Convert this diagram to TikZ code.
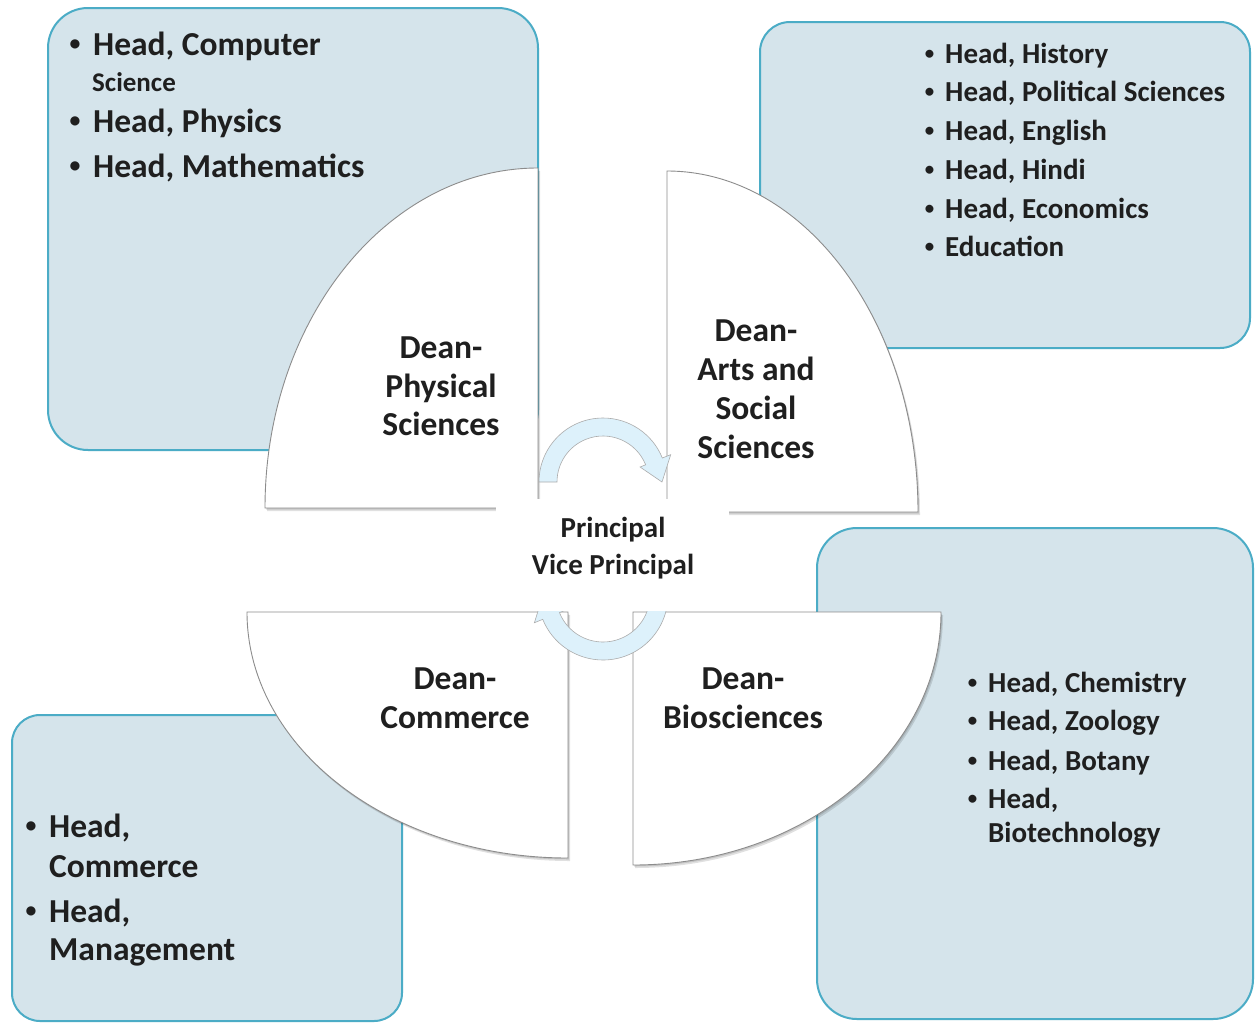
\documentclass[tikz,border=0pt]{standalone}
\usepackage{fontspec}
\setmainfont{Carlito}
\definecolor{boxfill}{RGB}{213,228,235}
\definecolor{boxline}{RGB}{75,172,198}
\definecolor{arrowfill}{RGB}{221,241,251}
\definecolor{secline}{RGB}{140,140,140}
\newcommand\bul{\llap{\raisebox{0.13em}{\scalebox{0.65}{•}}\kern0.38em}}
\tikzset{
  deptbox/.style={fill=boxfill, draw=boxline, line width=2pt},
  sector/.style={fill=white, draw=secline, line width=0.9pt},
  secshadow/.style={fill=black, opacity=0.12},
  cyclearrow/.style={fill=arrowfill, draw=gray!65, line width=0.6pt},
  ln/.style={inner sep=0pt, anchor=base west, text=black!88},
  cl/.style={inner sep=0pt, anchor=base, text=black!88},
  fbig/.style={font=\fontsize{33.5}{40}\selectfont\bfseries},
  fmid/.style={font=\fontsize{29}{35}\selectfont\bfseries},
  fsmall/.style={font=\fontsize{27}{32}\selectfont\bfseries},
}
\begin{document}
\begin{tikzpicture}[x=1pt,y=-1pt]
\useasboundingbox (0,0) rectangle (1255,1023);
\fill[white] (0,0) rectangle (1255,1023);

% department boxes
\draw[deptbox, rounded corners=40pt] (48,8) rectangle (538,450);
\draw[deptbox, rounded corners=30pt] (760,22) rectangle (1250,348);
\draw[deptbox, rounded corners=40pt] (817,528) rectangle (1253,1019);
\draw[deptbox, rounded corners=28pt] (12,715) rectangle (402,1021);

% sector shadows
\foreach \dx/\dy in {1/1.5, 2/3}{
\begin{scope}[shift={(\dx,\dy)}]
\fill[secshadow] (538,508) -- (265,508) arc[start angle=180, end angle=270, x radius=273, y radius=340] -- cycle;
\fill[secshadow] (667,512) -- (667,171) arc[start angle=270, end angle=360, x radius=251, y radius=341] -- cycle;
\fill[secshadow] (568,612) -- (247,612) arc[start angle=180, end angle=90, x radius=321, y radius=246] -- cycle;
\fill[secshadow] (633,612) -- (941,612) arc[start angle=0, end angle=90, x radius=308, y radius=253] -- cycle;
\end{scope}}

% sectors
\draw[sector] (538,508) -- (265,508) arc[start angle=180, end angle=270, x radius=273, y radius=340] -- cycle;
\draw[sector] (667,512) -- (667,171) arc[start angle=270, end angle=360, x radius=251, y radius=341] -- cycle;
\draw[sector] (568,612) -- (247,612) arc[start angle=180, end angle=90, x radius=321, y radius=246] -- cycle;
\draw[sector] (633,612) -- (941,612) arc[start angle=0, end angle=90, x radius=308, y radius=253] -- cycle;

% cycle arrows
\begin{scope}[shift={(603,482)}]
\draw[cyclearrow] (180:64) arc[start angle=180, end angle=338, radius=64] -- (338:73) -- (0:59) -- (338:40) -- (338:46) arc[start angle=338, end angle=180, radius=46] -- cycle;
\end{scope}
\begin{scope}[shift={(603,595)}]
\draw[cyclearrow] (0:65) arc[start angle=0, end angle=158, radius=65] -- (158:74) -- (180:60) -- (158:41) -- (158:47) arc[start angle=158, end angle=0, radius=47] -- cycle;
\end{scope}

% central area
\fill[white] (496,499) rectangle (729,611.3);

% centre text
\node[cl, fmid] (pr1) at (613,537) {Principal};
\node[cl, fmid] (pr2) at (613,574) {Vice Principal};

% dean labels
\node[cl, fbig] (ps1) at (441,358) {Dean-};
\node[cl, fbig] (ps2) at (441,397) {Physical};
\node[cl, fbig] (ps3) at (441,435) {Sciences};

\node[cl, fbig] (as1) at (756,341) {Dean-};
\node[cl, fbig] (as2) at (756,380) {Arts and};
\node[cl, fbig] (as3) at (756,419) {Social};
\node[cl, fbig] (as4) at (756,458) {Sciences};

\node[cl, fbig] (cm1) at (455,689) {Dean-};
\node[cl, fbig] (cm2) at (455,728) {Commerce};

\node[cl, fbig] (bs1) at (743,689) {Dean-};
\node[cl, fbig] (bs2) at (743,728) {Biosciences};

% top-left list
\node[ln, fbig] (tl1) at (93,55) {\bul Head, Computer};
\node[ln, fsmall] (tl2) at (92,91) {Science};
\node[ln, fbig] (tl3) at (93,132) {\bul Head, Physics};
\node[ln, fbig] (tl4) at (93,177) {\bul Head, Mathematics};

% top-right list
\node[ln, fmid] (tr1) at (945,63) {\bul Head, History};
\node[ln, fmid] (tr2) at (945,101.5) {\bul Head, Political Sciences};
\node[ln, fmid] (tr3) at (945,140) {\bul Head, English};
\node[ln, fmid] (tr4) at (945,179) {\bul Head, Hindi};
\node[ln, fmid] (tr5) at (945,218) {\bul Head, Economics};
\node[ln, fmid] (tr6) at (945,256) {\bul Education};

% bottom-right list
\node[ln, fmid] (br1) at (988,692) {\bul Head, Chemistry};
\node[ln, fmid] (br2) at (988,730) {\bul Head, Zoology};
\node[ln, fmid] (br3) at (988,770) {\bul Head, Botany};
\node[ln, fmid] (br4) at (988,808) {\bul Head,};
\node[ln, fmid] (br5) at (988,842) {Biotechnology};

% bottom-left list
\node[ln, fbig] (bl1) at (49,837) {\bul Head,};
\node[ln, fbig] (bl2) at (49,877) {Commerce};
\node[ln, fbig] (bl3) at (49,922) {\bul Head,};
\node[ln, fbig] (bl4) at (49,960) {Management};
\end{tikzpicture}
\end{document}
